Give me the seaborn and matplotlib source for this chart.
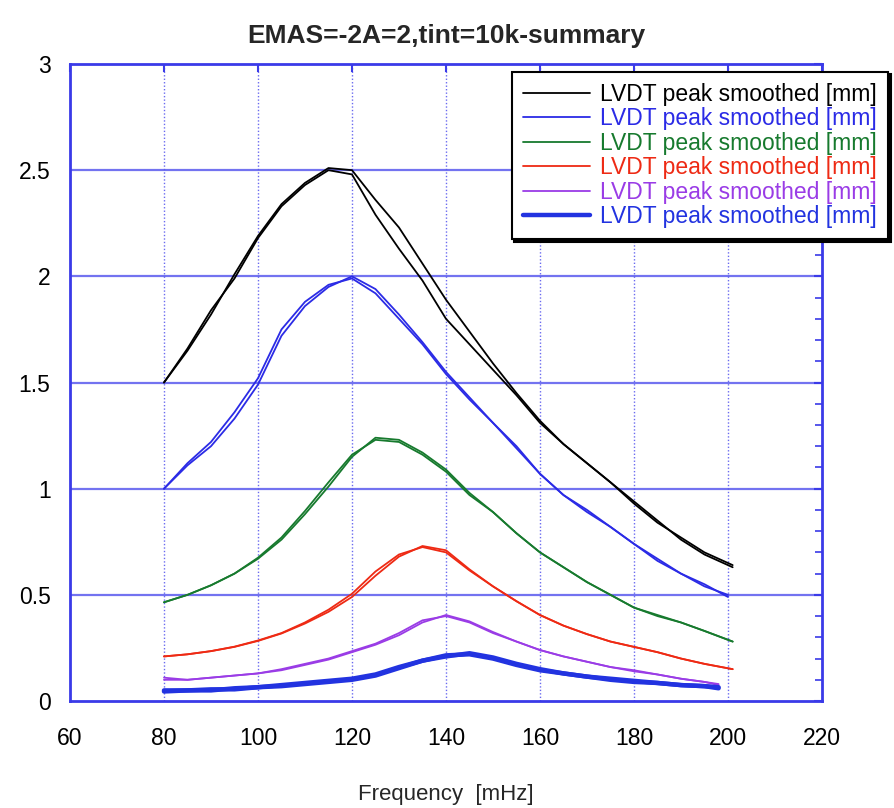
import numpy as np
import pandas as pd
import matplotlib
matplotlib.use('Agg')
import matplotlib.pyplot as plt
import seaborn as sns
from matplotlib.lines import Line2D
from matplotlib.ticker import MultipleLocator, FuncFormatter

sns.set_style('white')
plt.rcParams['font.family'] = ['Liberation Sans', 'DejaVu Sans']

# ------------------------------------------------------------
# data (two sweeps per amplitude)
# ------------------------------------------------------------
freq = [80, 85, 90, 95, 100, 105, 110, 115, 120, 125, 130, 135,
        140, 145, 150, 155, 160, 165, 170, 175, 180, 185, 190, 195]
end_freq = [201, 200, 201, 201, 198, 198]

black_up = [1.50, 1.66, 1.84, 1.99, 2.18, 2.33, 2.43, 2.50, 2.48, 2.29, 2.13, 1.98,
            1.80, 1.68, 1.56, 1.44, 1.31, 1.21, 1.12, 1.03, 0.94, 0.85, 0.76, 0.69, 0.63]
black_down = [1.50, 1.65, 1.82, 2.01, 2.19, 2.34, 2.44, 2.51, 2.50, 2.36, 2.23, 2.06,
              1.89, 1.74, 1.59, 1.45, 1.32, 1.21, 1.12, 1.03, 0.93, 0.84, 0.77, 0.70, 0.64]

blue_up = [1.00, 1.12, 1.22, 1.36, 1.52, 1.75, 1.88, 1.96, 1.99, 1.92, 1.80, 1.68,
           1.54, 1.42, 1.31, 1.20, 1.07, 0.97, 0.90, 0.82, 0.74, 0.66, 0.60, 0.54, 0.50]
blue_down = [1.00, 1.11, 1.20, 1.33, 1.49, 1.72, 1.86, 1.95, 2.00, 1.94, 1.82, 1.69,
             1.55, 1.43, 1.31, 1.19, 1.07, 0.97, 0.89, 0.82, 0.74, 0.67, 0.60, 0.55, 0.49]

green_up = [0.465, 0.50, 0.545, 0.60, 0.675, 0.77, 0.895, 1.03, 1.16, 1.23, 1.22, 1.16,
            1.08, 0.97, 0.89, 0.79, 0.70, 0.63, 0.56, 0.50, 0.44, 0.405, 0.37, 0.33, 0.28]
green_down = [0.465, 0.50, 0.545, 0.60, 0.67, 0.76, 0.88, 1.01, 1.15, 1.24, 1.23, 1.17,
              1.09, 0.98, 0.89, 0.79, 0.70, 0.63, 0.56, 0.50, 0.44, 0.40, 0.37, 0.33, 0.28]

red_up = [0.21, 0.22, 0.235, 0.256, 0.285, 0.32, 0.37, 0.43, 0.505, 0.61, 0.69, 0.725,
          0.70, 0.615, 0.54, 0.47, 0.405, 0.355, 0.315, 0.28, 0.255, 0.23, 0.20, 0.175, 0.15]
red_down = [0.21, 0.22, 0.235, 0.255, 0.283, 0.318, 0.365, 0.42, 0.49, 0.59, 0.68, 0.73,
            0.71, 0.62, 0.54, 0.47, 0.405, 0.355, 0.315, 0.28, 0.255, 0.23, 0.20, 0.175, 0.15]

purple_up = [0.11, 0.10, 0.11, 0.12, 0.13, 0.15, 0.175, 0.20, 0.235, 0.27, 0.32, 0.38,
             0.40, 0.37, 0.32, 0.28, 0.24, 0.21, 0.185, 0.16, 0.145, 0.125, 0.105, 0.09, 0.08]
purple_down = [0.10, 0.10, 0.11, 0.12, 0.13, 0.145, 0.17, 0.195, 0.23, 0.265, 0.31, 0.37,
               0.405, 0.375, 0.325, 0.28, 0.24, 0.21, 0.185, 0.16, 0.14, 0.125, 0.105, 0.09, 0.075]

thick_up = [0.045, 0.05, 0.055, 0.055, 0.065, 0.075, 0.085, 0.095, 0.105, 0.125, 0.16, 0.19,
            0.215, 0.22, 0.20, 0.17, 0.145, 0.13, 0.115, 0.105, 0.095, 0.085, 0.075, 0.07, 0.065]
thick_down = [0.05, 0.05, 0.05, 0.06, 0.065, 0.07, 0.08, 0.09, 0.10, 0.12, 0.155, 0.19,
              0.21, 0.225, 0.205, 0.175, 0.15, 0.13, 0.115, 0.10, 0.09, 0.085, 0.075, 0.07, 0.06]

series = [(black_up, black_down), (blue_up, blue_down), (green_up, green_down),
          (red_up, red_down), (purple_up, purple_down), (thick_up, thick_down)]
colors = ['#000000', '#2b2be6', '#177a2e', '#ee2a14', '#9a3ce6', '#2233e0']
widths = [1.3, 1.3, 1.3, 1.3, 1.3, 3.2]
label = 'LVDT peak smoothed [mm]'

grid_blue = '#5a5aee'

# ------------------------------------------------------------
# plot
# ------------------------------------------------------------
fig = plt.figure(figsize=(8.95, 8.08), dpi=100)
ax = fig.add_axes([0.0782, 0.1324, 0.8402, 0.7884])

for (up, down), col, lw, fend in zip(series, colors, widths, end_freq):
    x = freq + [fend]
    for trace in (up, down):
        sns.lineplot(x=x, y=trace, color=col, lw=lw, ax=ax, sort=False,
                     estimator=None, legend=False)

ax.set_xlim(60, 220)
ax.set_ylim(0, 3)
ax.xaxis.set_major_locator(MultipleLocator(20))
ax.yaxis.set_major_locator(MultipleLocator(0.5))
ax.yaxis.set_minor_locator(MultipleLocator(0.1))
ax.yaxis.set_major_formatter(FuncFormatter(lambda v, p: f'{v:g}'))

ax.grid(False)
for yv in np.arange(0.5, 3.0, 0.5):
    ax.axhline(yv, color=grid_blue, lw=1.6, alpha=0.85, zorder=0)
for xv in range(80, 220, 20):
    ax.axvline(xv, color=grid_blue, lw=1.0, ls=(0, (1, 1.5)), alpha=0.9, zorder=0)

for sp in ax.spines.values():
    sp.set_color('#3a3ae8')
    sp.set_linewidth(2.0)

ax.tick_params(which='both', direction='in', top=True, right=True, color='#3a3ae8')
ax.tick_params(which='major', length=6, width=1.5, labelsize=16.5, colors='#3a3ae8',
               labelcolor='black')
ax.tick_params(which='minor', length=5, width=1.2)
ax.tick_params(axis='x', pad=19)
ax.tick_params(axis='y', pad=14)

ax.set_xlabel('Frequency  [mHz]', fontsize=16, labelpad=24)
ax.set_title('EMAS=-2A=2,tint=10k-summary', fontsize=19, fontweight='bold',
             family=['Liberation Sans Narrow', 'Liberation Sans', 'DejaVu Sans'], pad=15)

handles = [Line2D([], [], color=c, lw=w) for c, w in zip(colors, widths)]
leg = ax.legend(handles, [label] * len(handles), loc='upper right',
                bbox_to_anchor=(1.088, 0.988), frameon=True, fancybox=False,
                shadow={'color': 'black', 'alpha': 1.0}, edgecolor='black',
                framealpha=1, fontsize=16.5, labelcolor='linecolor',
                handlelength=2.9, handletextpad=0.45, borderpad=0.5,
                labelspacing=0.06, borderaxespad=0)
leg.get_frame().set_linewidth(1.5)

fig.savefig('out.png', dpi=100)
